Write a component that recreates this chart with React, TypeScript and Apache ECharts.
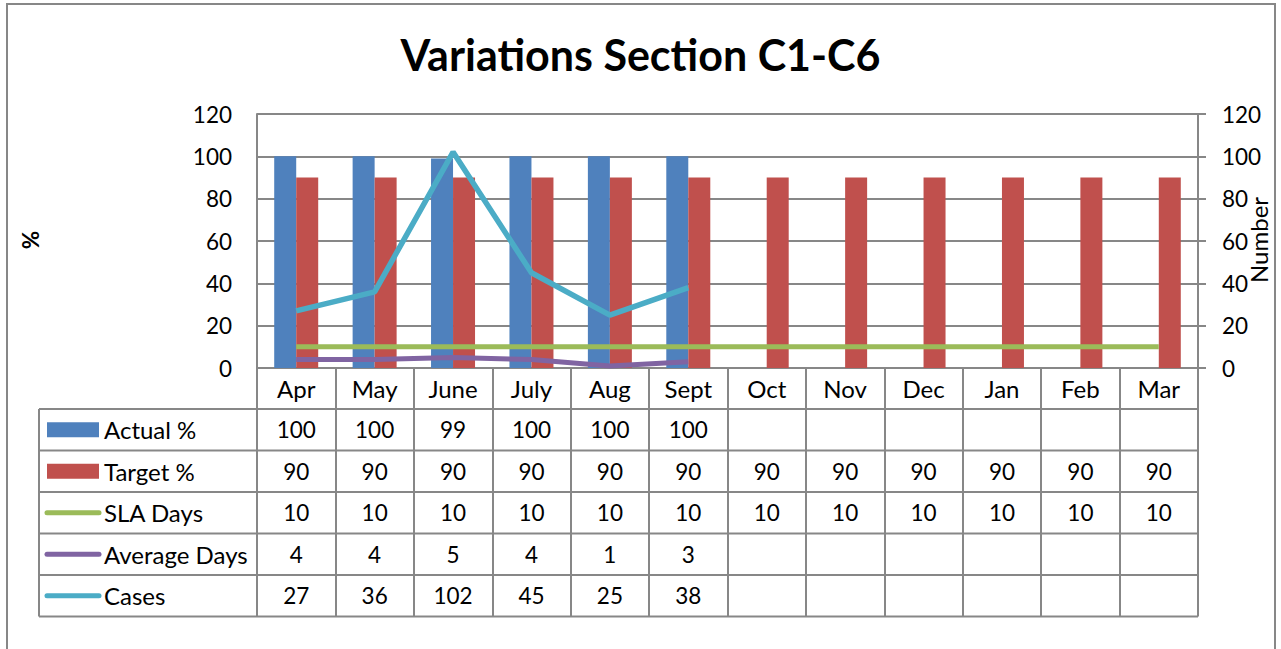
import React, { useEffect, useRef } from "react";
import * as echarts from "echarts";

const categories = ["Apr", "May", "June", "July", "Aug", "Sept", "Oct", "Nov", "Dec", "Jan", "Feb", "Mar"];
const actualPct: (number | null)[] = [100, 100, 99, 100, 100, 100, null, null, null, null, null, null];
const targetPct: (number | null)[] = [90, 90, 90, 90, 90, 90, 90, 90, 90, 90, 90, 90];
const slaDays: (number | null)[] = [10, 10, 10, 10, 10, 10, 10, 10, 10, 10, 10, 10];
const averageDays: (number | null)[] = [4, 4, 5, 4, 1, 3, null, null, null, null, null, null];
const cases: (number | null)[] = [27, 36, 102, 45, 25, 38, null, null, null, null, null, null];

const titleText = "Variations Section C1-C6";
const leftAxisName = "%";
const rightAxisName = "Number";

const FONT = "Lato, 'Open Sans', sans-serif";
const GRAY = "#878787";
const C_BLUE = "#4F81BD";
const C_RED = "#C0504D";
const C_GREEN = "#9BBB59";
const C_PURPLE = "#8064A2";
const C_AQUA = "#4BACC6";

const PLOT_L = 257;
const PLOT_R = 1198;
const PLOT_T = 114;
const PLOT_B = 368;
const W = 1281;
const H = 649;
const TABLE_L = 39;
const HEADER_B = 409;
const ROW_H = 41.5;
const FS_NUM = 22.5;
const FS_TXT = 24;

export default function App() {
  const ref = useRef<HTMLDivElement>(null);
  useEffect(() => {
    if (!ref.current) return;
    const chart = echarts.init(ref.current, undefined, { renderer: "svg" });

    const rows = [
      { name: "Actual %", data: actualPct, color: C_BLUE, kind: "bar" },
      { name: "Target %", data: targetPct, color: C_RED, kind: "bar" },
      { name: "SLA Days", data: slaDays, color: C_GREEN, kind: "line" },
      { name: "Average Days", data: averageDays, color: C_PURPLE, kind: "line" },
      { name: "Cases", data: cases, color: C_AQUA, kind: "line" },
    ];

    const catW = (PLOT_R - PLOT_L) / categories.length;
    const graphics: any[] = [];
    graphics.push({
      type: "rect",
      shape: { x: 7, y: 4, width: 1268, height: 700 },
      style: { fill: "none", stroke: GRAY, lineWidth: 2 },
      silent: true,
    });
    graphics.push({
      type: "text",
      x: 30,
      y: 240,
      rotation: Math.PI / 2,
      style: { text: leftAxisName, font: `bold ${FS_NUM}px ${FONT}`, fill: "#000", align: "center", verticalAlign: "middle" },
    });
    graphics.push({
      type: "text",
      x: 1258,
      y: 240,
      rotation: Math.PI / 2,
      style: { text: rightAxisName, font: `${FS_TXT}px ${FONT}`, fill: "#000", align: "center", verticalAlign: "middle" },
    });
    for (let i = 0; i <= rows.length; i++) {
      const y = HEADER_B + i * ROW_H;
      graphics.push({
        type: "line",
        shape: { x1: TABLE_L, y1: y, x2: PLOT_R, y2: y },
        style: { stroke: GRAY, lineWidth: 2 },
        silent: true,
      });
    }
    graphics.push({
      type: "line",
      shape: { x1: TABLE_L, y1: HEADER_B, x2: TABLE_L, y2: HEADER_B + rows.length * ROW_H },
      style: { stroke: GRAY, lineWidth: 2 },
      silent: true,
    });
    rows.forEach((r, i) => {
      const cy = HEADER_B + i * ROW_H + ROW_H / 2;
      if (r.kind === "bar") {
        graphics.push({ type: "rect", shape: { x: 47, y: cy - 7.5, width: 52, height: 15 }, style: { fill: r.color } });
      } else {
        graphics.push({
          type: "line",
          shape: { x1: 47, y1: cy, x2: 99, y2: cy },
          style: { stroke: r.color, lineWidth: 5, lineCap: "round" },
        });
      }
      graphics.push({
        type: "text",
        x: 104,
        y: cy,
        style: { text: r.name, font: `${FS_TXT}px ${FONT}`, fill: "#000", align: "left", verticalAlign: "middle" },
      });
      r.data.forEach((v, j) => {
        if (v === null || v === undefined) return;
        graphics.push({
          type: "text",
          x: PLOT_L + catW * (j + 0.5),
          y: cy,
          style: { text: String(v), font: `${FS_NUM}px ${FONT}`, fill: "#000", align: "center", verticalAlign: "middle" },
        });
      });
    });

    const series: any[] = rows.map((r) => {
      if (r.kind === "bar") {
        return {
          name: r.name,
          type: "bar",
          data: r.data,
          yAxisIndex: 0,
          barWidth: 22,
          barGap: "0%",
          itemStyle: { color: r.color },
          z: 2,
        };
      }
      return {
        name: r.name,
        type: "line",
        data: r.data,
        yAxisIndex: 1,
        symbol: "none",
        lineStyle: { color: r.color, width: r.name === "Cases" ? 5.5 : 5 },
        itemStyle: { color: r.color },
        z: 3,
      };
    });

    chart.setOption({
      animation: false,
      backgroundColor: "#fff",
      title: {
        text: titleText,
        left: "center",
        top: 28,
        textStyle: { fontFamily: FONT, fontWeight: "bold", fontSize: 43, color: "#000" },
      },
      grid: { left: PLOT_L, right: W - PLOT_R, top: PLOT_T, bottom: H - PLOT_B, containLabel: false },
      xAxis: {
        type: "category",
        data: categories,
        boundaryGap: true,
        axisLine: { show: true, lineStyle: { color: GRAY, width: 2 } },
        axisTick: { show: true, interval: 0, length: HEADER_B + rows.length * ROW_H - PLOT_B, lineStyle: { color: GRAY, width: 2 } },
        axisLabel: { interval: 0, margin: 8, fontFamily: FONT, fontSize: FS_TXT, color: "#000" },
        splitLine: { show: false },
      },
      yAxis: [
        {
          type: "value",
          min: 0,
          max: 120,
          interval: 20,
          axisLine: { show: true, lineStyle: { color: GRAY, width: 2 } },
          axisTick: { show: false },
          axisLabel: { margin: 25, fontFamily: FONT, fontSize: FS_NUM, color: "#000" },
          splitLine: { show: true, lineStyle: { color: GRAY, width: 2 } },
        },
        {
          type: "value",
          min: 0,
          max: 120,
          interval: 20,
          position: "right",
          axisLine: { show: true, lineStyle: { color: GRAY, width: 2 } },
          axisTick: { show: true, length: 8, lineStyle: { color: GRAY, width: 2 } },
          axisLabel: { margin: 24, fontFamily: FONT, fontSize: FS_NUM, color: "#000" },
          splitLine: { show: false },
        },
      ],
      series,
      graphic: graphics,
    });
    return () => chart.dispose();
  }, []);
  return (
    <div
      ref={ref}
      style={{ position: "absolute", left: 0, top: 0, width: W, height: H, background: "#fff" }}
    />
  );
}
